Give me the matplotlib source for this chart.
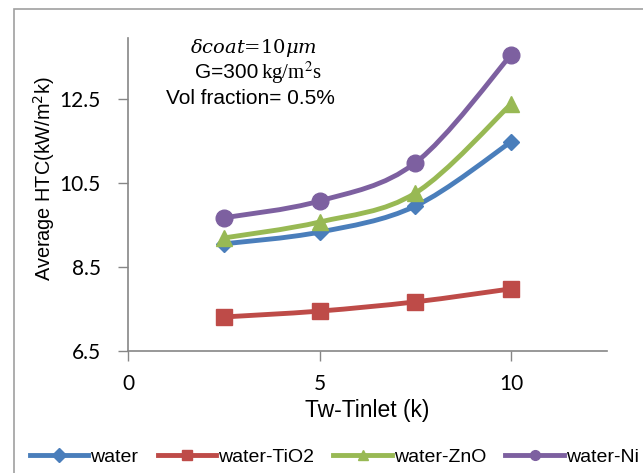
import matplotlib
matplotlib.use("Agg")
import matplotlib.pyplot as plt
from matplotlib.path import Path
from matplotlib.patches import PathPatch, Rectangle
from matplotlib.lines import Line2D
import numpy as np

x_vals = [2.5, 5, 7.5, 10]
water = [9.05, 9.33, 9.95, 11.48]
water_tio2 = [7.31, 7.45, 7.67, 7.98]
water_zno = [9.19, 9.57, 10.26, 12.38]
water_ni = [9.67, 10.07, 10.98, 13.55]
series_names = ["water", "water-TiO2", "water-ZnO", "water-Ni"]
y_ticks = [6.5, 8.5, 10.5, 12.5]
x_ticks = [0, 5, 10]

colors = ["#4A7EBB", "#BE4B48", "#98B954", "#7D60A0"]
markers = ["D", "s", "^", "o"]
msizes = [8, 12, 12, 12]

plt.rcParams['font.family'] = ['Liberation Sans', 'DejaVu Sans']

fig = plt.figure(figsize=(6.43, 4.73), dpi=100)
# outer chart border
fig.patches.append(Rectangle((14/643, -0.1), 1.0, 1 - 9/473 + 0.1, transform=fig.transFigure,
                             fill=False, edgecolor="#A0A0A0", linewidth=1.2))
ax = fig.add_axes([128/643, 1 - 351/473, (607 - 128)/643, (351 - 38)/473])


def smooth_path(xs, ys):
    pts = np.column_stack([xs, ys])
    verts = [pts[0]]
    codes = [Path.MOVETO]
    n = len(pts)
    for i in range(n - 1):
        p0 = pts[i - 1] if i > 0 else pts[i]
        p1 = pts[i]
        p2 = pts[i + 1]
        p3 = pts[i + 2] if i + 2 < n else pts[i + 1]
        c1 = p1 + (p2 - p0) / 6.0
        c2 = p2 - (p3 - p1) / 6.0
        verts += [c1, c2, p2]
        codes += [Path.CURVE4] * 3
    return Path(verts, codes)


all_series = [water, water_tio2, water_zno, water_ni]
for ys, c, m, ms in zip(all_series, colors, markers, msizes):
    ax.add_patch(PathPatch(smooth_path(x_vals, ys), facecolor="none", edgecolor=c,
                           linewidth=3.5, transform=ax.transData, zorder=2,
                           capstyle="round", joinstyle="round"))
    ax.plot(x_vals, ys, linestyle="none", marker=m, markersize=ms, color=c, zorder=3)

ax.set_xlim(0, 12.5)
ax.set_ylim(6.5, 13.95)
ax.set_xticks(x_ticks)
ax.set_yticks(y_ticks)
ax.set_yticklabels([str(v) for v in y_ticks])
for s in ["top", "right"]:
    ax.spines[s].set_visible(False)
for s in ["left", "bottom"]:
    ax.spines[s].set_color("#868686")
    ax.spines[s].set_linewidth(1.2)
ax.tick_params(axis="both", colors="#868686", labelcolor="black", labelsize=15,
               length=7.5, width=1.0, direction="out")
ax.tick_params(axis="x", pad=9)
ax.tick_params(axis="y", pad=12)
for lab in ax.get_xticklabels() + ax.get_yticklabels():
    lab.set_family(["Lato", "DejaVu Sans"])

ax.set_xlabel("Tw-Tinlet (k)", fontsize=16.5, labelpad=4)
ax.set_ylabel("Average HTC(kW/m$^2$k)", fontsize=14.3)
ax.yaxis.label.set_va("center")
ax.yaxis.set_label_coords((44 - 128) / 479, (351 - 179) / 313)

fig.text(253/643, 1 - 48/473, r"$\delta coat$=10$\mu m$", ha="center",
         va="center", fontsize=14, family=["DejaVu Serif"], math_fontfamily="dejavuserif")
fig.text(258/643, 1 - 73/473, "G=300", ha="right", va="center", fontsize=15)
fig.text(261/643, 1 - 73/473, r"kg/m$^2$s", ha="left", va="center", fontsize=15,
         family=["Liberation Serif"], math_fontfamily="stix")
fig.text(250/643, 1 - 98/473, "Vol fraction= 0.5%", ha="center", va="center", fontsize=15)

handles = [Line2D([0], [0], color=c, marker=m, markersize=7, linewidth=3.5)
           for c, m in zip(colors, markers)]
fig.legend(handles, series_names, loc="center", bbox_to_anchor=(0.52, 1 - 457/473), ncol=4,
           frameon=False, fontsize=14, handlelength=3.0, handletextpad=0.1, columnspacing=1.0)

fig.savefig("out.png", dpi=100)
